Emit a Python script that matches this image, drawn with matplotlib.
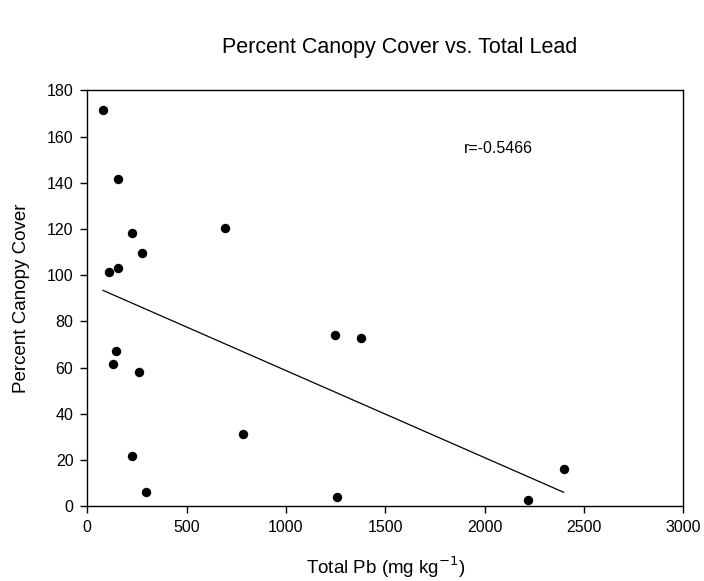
import numpy as np
import matplotlib
matplotlib.use("Agg")
import matplotlib.pyplot as plt

plt.rcParams['font.family'] = ['Liberation Sans', 'DejaVu Sans']

total_pb = [79, 154, 225, 277, 110, 153, 695, 144, 129, 261, 223, 295, 782, 1245, 1256, 1379, 2220, 2398]
canopy = [171.4, 141.5, 118.4, 109.5, 101.2, 103.2, 120.5, 67.2, 61.7, 58.3, 21.6, 6.3, 31.4, 74.2, 4.0, 72.8, 2.6, 16.3]
x_ticks = [0, 500, 1000, 1500, 2000, 2500, 3000]
y_ticks = [0, 20, 40, 60, 80, 100, 120, 140, 160, 180]

fig = plt.figure(figsize=(7.04, 5.81), dpi=100)
ax = fig.add_axes([0.124, 0.1286, 0.8466, 0.716])

x = np.array(total_pb, dtype=float)
y = np.array(canopy, dtype=float)
ax.scatter(x, y, s=46, color='black', zorder=3, linewidths=0)

slope, intercept = np.polyfit(x, y, 1)
xl = np.array([x.min(), x.max()])
ax.plot(xl, slope * xl + intercept, color='black', linewidth=0.9)

ax.set_xlim(0, 3000)
ax.set_ylim(0, 180)
ax.set_xticks(x_ticks)
ax.set_yticks(y_ticks)
ax.tick_params(direction='out', length=5, width=1, labelsize=11.5, pad=5)
for s in ax.spines.values():
    s.set_linewidth(1)

ax.text(1896, 155, 'r=-0.5466', fontsize=11.5, va='center', ha='left')
ax.set_xlabel('Total Pb (mg kg$^{-1}$)', fontsize=13.5, labelpad=14)
ax.set_ylabel('Percent Canopy Cover', fontsize=13.5, labelpad=12)
fig.suptitle('Percent Canopy Cover vs. Total Lead', fontsize=15.5, x=0.567, y=0.937)

fig.savefig('out.png', dpi=100)
